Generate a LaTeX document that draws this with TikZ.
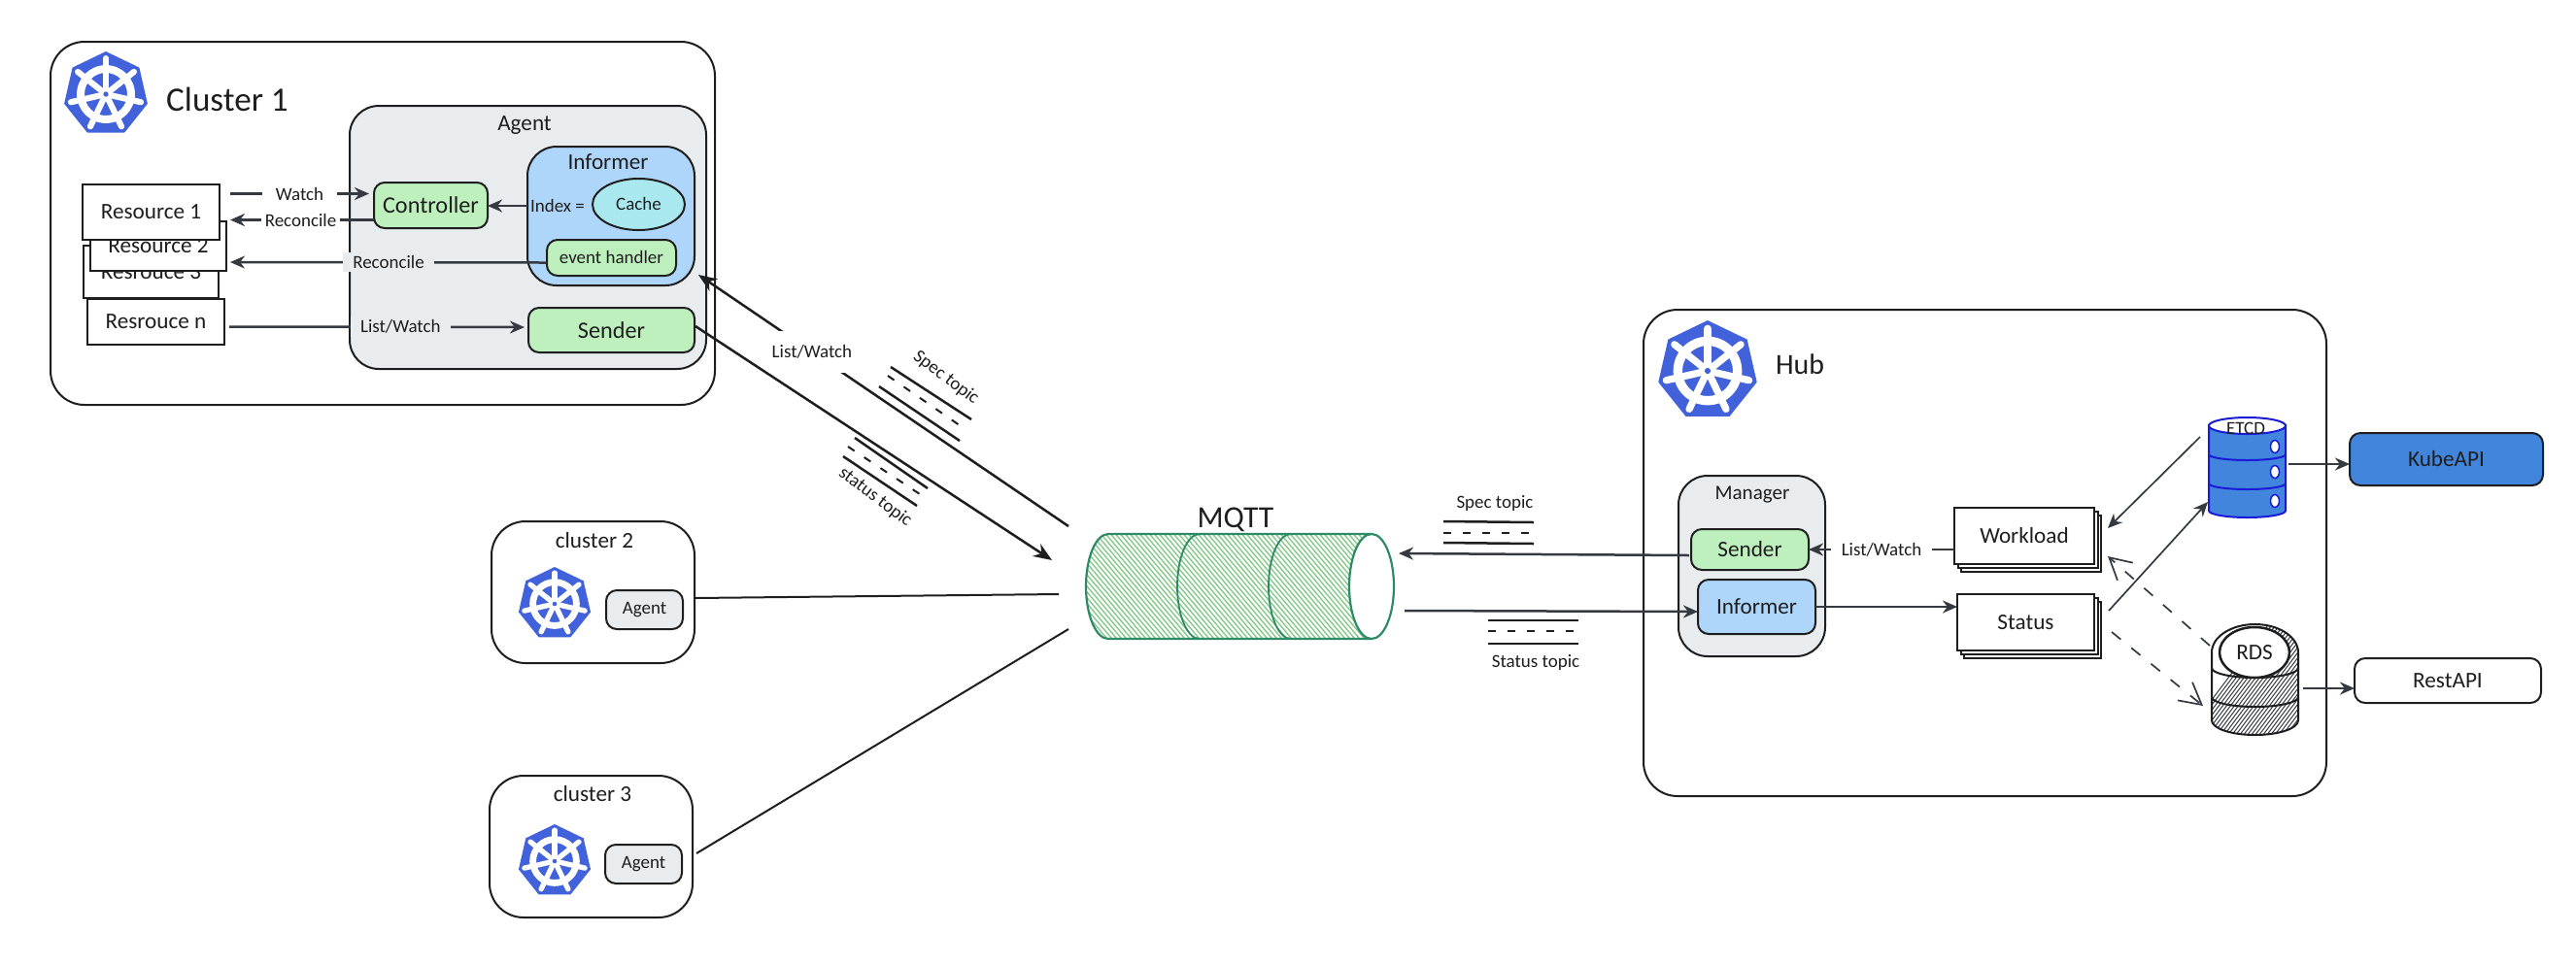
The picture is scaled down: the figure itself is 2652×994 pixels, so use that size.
\documentclass[tikz,border=0pt]{standalone}
\usepackage{fontspec}
\setmainfont{Carlito}
\usetikzlibrary{arrows.meta,positioning,shapes.geometric}
\definecolor{inkc}{HTML}{1E1E1E}
\definecolor{linec}{HTML}{343A40}
\definecolor{agentc}{HTML}{E9ECEF}
\definecolor{bluec}{HTML}{AED6FB}
\definecolor{greenc}{HTML}{BDF0BD}
\definecolor{cachec}{HTML}{A8E8EE}
\definecolor{kubec}{HTML}{4262DB}
\definecolor{apic}{HTML}{4285DC}
\definecolor{etcdline}{HTML}{1A1AD9}
\definecolor{mqttline}{HTML}{2F8A68}
\definecolor{mqtthatch}{HTML}{86C98A}
\newcommand{\kubelogo}[3]{
    \begin{scope}[shift={(#1,#2)}]
        \fill [kubec] (-90:#3) -- (-38.57:#3) -- (12.86:#3) -- (64.29:#3) -- (115.71:#3) -- (167.14:#3) -- (218.57:#3) -- cycle;
        \fill [white,even odd rule] (0,0) circle ({.68*#3}) circle ({.5*#3});
        \foreach \a in {-90,-38.57,12.86,64.29,115.71,167.14,218.57}
            \draw [white,line width=.014mm*#3,line cap=round] (0,0) -- (\a:{.84*#3});
        \fill [kubec] (0,0) circle ({.06*#3});
    \end{scope}
}
\begin{document}
\begin{tikzpicture}[x=0.1mm,y=-0.1mm]
    \tikzstyle{every node}+=[inner sep=0pt,outer sep=0pt,text=inkc]
    \tikzstyle{txtxl}=[font=\fontsize{10}{12}\selectfont]
    \tikzstyle{txtl}=[font=\fontsize{6.9}{9}\selectfont]
    \tikzstyle{txtm}=[font=\fontsize{6.6}{8}\selectfont]
    \tikzstyle{txts}=[font=\fontsize{5.4}{7}\selectfont]
    \tikzstyle{frame}=[draw=inkc,line width=.2mm,fill=white,rounded corners=3.5mm]
    \tikzstyle{panel}=[draw=inkc,line width=.2mm,rounded corners=1.1mm]
    \tikzstyle{sheet}=[draw=inkc,line width=.2mm,fill=white]
    \tikzstyle{flow}=[draw=linec,line width=.25mm,-{Stealth[length=1.5mm,width=1.3mm]}]
    \tikzstyle{longflow}=[draw=inkc,line width=.25mm,-{Stealth[length=1.9mm,width=1.5mm]}]
    \tikzstyle{dashflow}=[draw=linec,line width=.17mm,dash pattern=on 1.2mm off 1.4mm,-{Straight Barb[length=2.2mm,width=2.4mm]}]
    \tikzstyle{wire}=[draw=inkc,line width=.2mm]
    \tikzstyle{topic}=[draw=inkc,line width=.25mm]
    \tikzstyle{topicd}=[draw=inkc,line width=.2mm,dash pattern=on .8mm off 1.2mm]
    \useasboundingbox (0,0) rectangle (2652,994);

    % cluster 1
    \node [frame,minimum width=68.4mm,minimum height=37.4mm] (clusterone) at (394,230) {};
    \kubelogo{109}{97}{44}
    \node [txtxl] (clusteronet) at (234,102) {Cluster 1};
    \node [frame,fill=agentc,rounded corners=3mm,minimum width=36.7mm,minimum height=27.1mm] (agent) at (543.5,244.5) {};
    \node [txtm] (agentt) at (540,129) {Agent};
    \node [frame,fill=bluec,rounded corners=3mm,minimum width=17.2mm,minimum height=14.3mm] (informer) at (629,222.5) {};
    \node [txtm] (informert) at (626,167) {Informer};
    \node [draw=inkc,line width=.2mm,ellipse,fill=cachec,minimum width=9.5mm,minimum height=5.3mm] (cache) at (657.5,210.5) {};
    \node [txts] (cachet) at (657.5,210) {Cache};
    \node [txts] (index) at (574,212) {Index =};
    \node [panel,fill=greenc,minimum width=13.3mm,minimum height=3.7mm] (handler) at (629.5,265.5) {};
    \node [txts] (handlert) at (629.5,265) {event handler};
    \node [panel,fill=greenc,minimum width=11.7mm,minimum height=4.7mm,txtl] (controller) at (443.5,211.5) {Controller};
    \node [panel,fill=greenc,minimum width=17.1mm,minimum height=4.6mm,txtl] (sender) at (629.5,340) {Sender};

    \node [sheet,minimum width=14.1mm,minimum height=4.7mm,txtm] (resn) at (160.5,331.5) {Resrouce n};
    \node [sheet,minimum width=13.9mm,minimum height=5.4mm,txtm] (resthree) at (155.5,280) {Resrouce 3};
    \node [sheet,minimum width=14mm,minimum height=5.1mm,txtm] (restwo) at (163,253.5) {Resource 2};
    \node [sheet,minimum width=14.1mm,minimum height=5.7mm,txtm] (resone) at (155.5,218.5) {Resource 1};

    \draw [flow] ([shift={(11,-19)}]resone.east) -- node [txts,fill=white,inner xsep=4pt,inner ysep=1pt] (watchl) {Watch} ([shift={(-5,-12)}]controller.west);
    \draw [flow] ([shift={(0,15)}]controller.west) -- node [pos=.51,txts,fill=white,inner xsep=1pt,inner ysep=1pt] (reconcilel) {Reconcile} ([shift={(11,8)}]resone.east);
    \draw [flow] ([shift={(-3,0)}]index.west) -- (index.west -| controller.east);
    \draw [flow] ([shift={(0,5)}]handler.west) -- node [pos=.5,txts,fill=agentc,inner xsep=3pt,inner ysep=1pt] (reconcilem) {Reconcile} ([shift={(4,16.5)}]restwo.east);
    \draw [flow] ([shift={(5,5)}]resn.east) -- node [pos=.58,txts,fill=agentc,inner xsep=3pt,inner ysep=1pt] (listl) {List/Watch} ([shift={(-4,-3)}]sender.west);

    % other clusters
    \node [frame,minimum width=20.9mm,minimum height=14.6mm] (clustertwo) at (610.5,610) {};
    \node [txtm] (clustertwot) at (612,557) {cluster 2};
    \kubelogo{571}{622}{38}
    \node [panel,fill=agentc,minimum width=7.9mm,minimum height=4mm,txts] (agenttwo) at (663.5,628) {Agent};
    \node [frame,minimum width=20.9mm,minimum height=14.6mm] (clusterthree) at (608.5,872) {};
    \node [txtm] (clusterthreet) at (610,818) {cluster 3};
    \kubelogo{571}{887}{38}
    \node [panel,fill=agentc,minimum width=7.9mm,minimum height=4mm,txts] (agentthree) at (662.5,890) {Agent};

    % mqtt
    \begin{scope}
        \clip (1141,550) -- (1412,550) -- (1412,658) -- (1141,658) arc [start angle=90,end angle=270,x radius=23,y radius=54] -- cycle;
        \foreach \h in {900,905,...,1440}
            \draw [mqtthatch,line width=.14mm] (\h,540) -- ++(110,130);
    \end{scope}
    \draw [mqttline,line width=.22mm] (1412,550) -- (1141,550) arc [start angle=270,end angle=90,x radius=23,y radius=54] -- (1412,658);
    \draw [mqttline,line width=.18mm] (1235,550) arc [start angle=270,end angle=90,x radius=23,y radius=54];
    \draw [mqttline,line width=.18mm] (1329,550) arc [start angle=270,end angle=90,x radius=23,y radius=54];
    \draw [mqttline,line width=.22mm,fill=white] (1412,604) ellipse [x radius=23,y radius=54];
    \node [txtxl,font=\fontsize{9}{11}\selectfont] (mqtt) at (1272,535) {MQTT};
    \coordinate (mqtta) at (1100,542);
    \coordinate (mqttb) at (1083,577);
    \coordinate (mqttc) at (1090,612);
    \coordinate (mqttd) at (1100,648);
    \coordinate (mqtte) at (1440,570);
    \coordinate (mqttf) at (1446,629);

    \draw [longflow] (mqtta) -- node [pos=.693,txts,fill=white,inner xsep=1pt,inner ysep=4pt] (biglistl) {List/Watch} ([shift={(4,-11)}]informer.south east);
    \draw [longflow] ([shift={(1,-4)}]sender.east) -- (mqttb);
    \draw [wire] ([shift={(0,6)}]clustertwo.east) -- (mqttc);
    \draw [wire] ([shift={(4,7)}]clusterthree.east) -- (mqttd);

    % topics on the left
    \draw [topic] (917,378) -- (1000,432);
    \draw [topicd] (914,387) -- (995,443);
    \draw [topic] (905,398) -- (988,454);
    \node [txts,rotate=-37] (spectopicl) at (974,389) {Spec topic};
    \draw [topic] (880,451) -- (955,503);
    \draw [topicd] (873,460) -- (950,511);
    \draw [topic] (868,470) -- (944,521);
    \node [txts,rotate=-37] (statustopicl) at (901,512) {status topic};

    % hub
    \node [frame,minimum width=70.3mm,minimum height=50.1mm] (hub) at (2043.5,569.5) {};
    \kubelogo{1758}{382}{52}
    \node [txtl,font=\fontsize{8.5}{11}\selectfont] (hubt) at (1853,375) {Hub};
    \node [frame,fill=agentc,rounded corners=3mm,minimum width=15.1mm,minimum height=18.6mm] (manager) at (1803.5,583) {};
    \node [txts,font=\fontsize{6}{8}\selectfont] (managert) at (1804,510) {Manager};
    \node [panel,fill=greenc,minimum width=12.1mm,minimum height=4.2mm,txtm] (hsender) at (1801.5,566) {Sender};
    \node [panel,fill=bluec,minimum width=12.1mm,minimum height=5.6mm,txtm] (hinformer) at (1808.5,625) {Informer};
    \node [sheet,minimum width=14.4mm,minimum height=5.8mm] (workloadc) at (2091,560) {};
    \node [sheet,minimum width=14.4mm,minimum height=5.8mm] (workloadb) at (2088,556) {};
    \node [sheet,minimum width=14.4mm,minimum height=5.8mm,txtm] (workload) at (2084,552) {Workload};
    \node [sheet,minimum width=14.1mm,minimum height=5.8mm] (statusc) at (2092,649) {};
    \node [sheet,minimum width=14.1mm,minimum height=5.8mm] (statusb) at (2089,645) {};
    \node [sheet,minimum width=14.1mm,minimum height=5.8mm,txtm] (status) at (2085.5,641) {Status};

    % etcd
    \draw [etcdline,line width=.2mm,fill=apic] (2274,438) -- (2274,526) arc [start angle=180,end angle=0,x radius=39.5,y radius=7] -- (2353,438) -- cycle;
    \draw [etcdline,line width=.2mm,fill=white] (2313.5,438.5) ellipse [x radius=39.5,y radius=8.5];
    \draw [etcdline,line width=.2mm] (2274,468) arc [start angle=180,end angle=0,x radius=39.5,y radius=6];
    \draw [etcdline,line width=.2mm] (2274,498) arc [start angle=180,end angle=0,x radius=39.5,y radius=6];
    \foreach \y in {460,486,516}
        \draw [etcdline,line width=.15mm,fill=white] (2342,\y) ellipse [x radius=4.5,y radius=6.5];
    \node [txts] (etcd) at (2312,441) {ETCD};
    \node [panel,fill=apic,minimum width=19.9mm,minimum height=5.4mm,txtm] (kubeapi) at (2518.5,473) {KubeAPI};

    % rds
    \begin{scope}
        \clip (2277,672) arc [start angle=180,end angle=360,x radius=44.5,y radius=29] -- (2366,742) arc [start angle=0,end angle=180,x radius=44.5,y radius=15] -- cycle;
        \foreach \h in {2240,2244,...,2400}
            \draw [linec,line width=.1mm] (\h,770) -- ++(100,-133);
    \end{scope}
    \draw [inkc,line width=.2mm] (2277,672) arc [start angle=180,end angle=360,x radius=44.5,y radius=29] -- (2366,742) arc [start angle=0,end angle=180,x radius=44.5,y radius=15] -- cycle;
    \draw [inkc,line width=.2mm] (2277,688) arc [start angle=180,end angle=0,x radius=44.5,y radius=10];
    \draw [inkc,line width=.2mm] (2277,718) arc [start angle=180,end angle=0,x radius=44.5,y radius=10];
    \draw [inkc,line width=.25mm,fill=white] (2321,672) ellipse [x radius=36,y radius=26];
    \node [txtm] (rds) at (2321,672) {RDS};
    \node [panel,minimum width=19.2mm,minimum height=4.6mm,txtm] (restapi) at (2520,701) {RestAPI};

    \coordinate (etcda) at (2265,450);
    \coordinate (etcdb) at (2273,517);
    \coordinate (etcdc) at (2356,478);
    \coordinate (rdsa) at (2275,665);
    \coordinate (rdsb) at (2268,727);
    \coordinate (rdsc) at (2371,709);
    \coordinate (workloade) at (2170,544);
    \coordinate (workloadf) at (2170,573);
    \coordinate (statuse) at (2171,629);
    \coordinate (statusf) at (2174,651);

    \draw [flow] ([shift={(-2,6)}]hsender.west) -- (mqtte);
    \draw [flow] (mqttf) -- ([shift={(0,5)}]hinformer.west);
    \draw [flow] (workload.west |- hsender.east) -- node [pos=.5,txts,fill=white,inner xsep=3pt,inner ysep=1pt] (hlistl) {List/Watch} (hsender.east);
    \draw [flow] (hinformer.east) -- (status.west |- hinformer.east);
    \draw [flow,line width=.17mm] (etcda) -- (workloade);
    \draw [flow,line width=.17mm] (statuse) -- (etcdb);
    \draw [dashflow] (rdsa) -- (workloadf);
    \draw [dashflow] (statusf) -- (rdsb);
    \draw [flow] (etcdc) -- ([shift={(0,5)}]kubeapi.west);
    \draw [flow] (rdsc) -- ([shift={(0,8)}]restapi.west);

    % topics on the right
    \draw [topic] (1486,537) -- (1579,538);
    \draw [topicd] (1486,549) -- (1579,549);
    \draw [topic] (1486,559) -- (1579,560);
    \node [txts] (spectopicr) at (1539,518) {Spec topic};
    \draw [topic] (1532,639) -- (1625,639);
    \draw [topicd] (1532,650) -- (1625,650);
    \draw [topic] (1532,663) -- (1625,663);
    \node [txts] (statustopicr) at (1581,682) {Status topic};
\end{tikzpicture}
\end{document}
